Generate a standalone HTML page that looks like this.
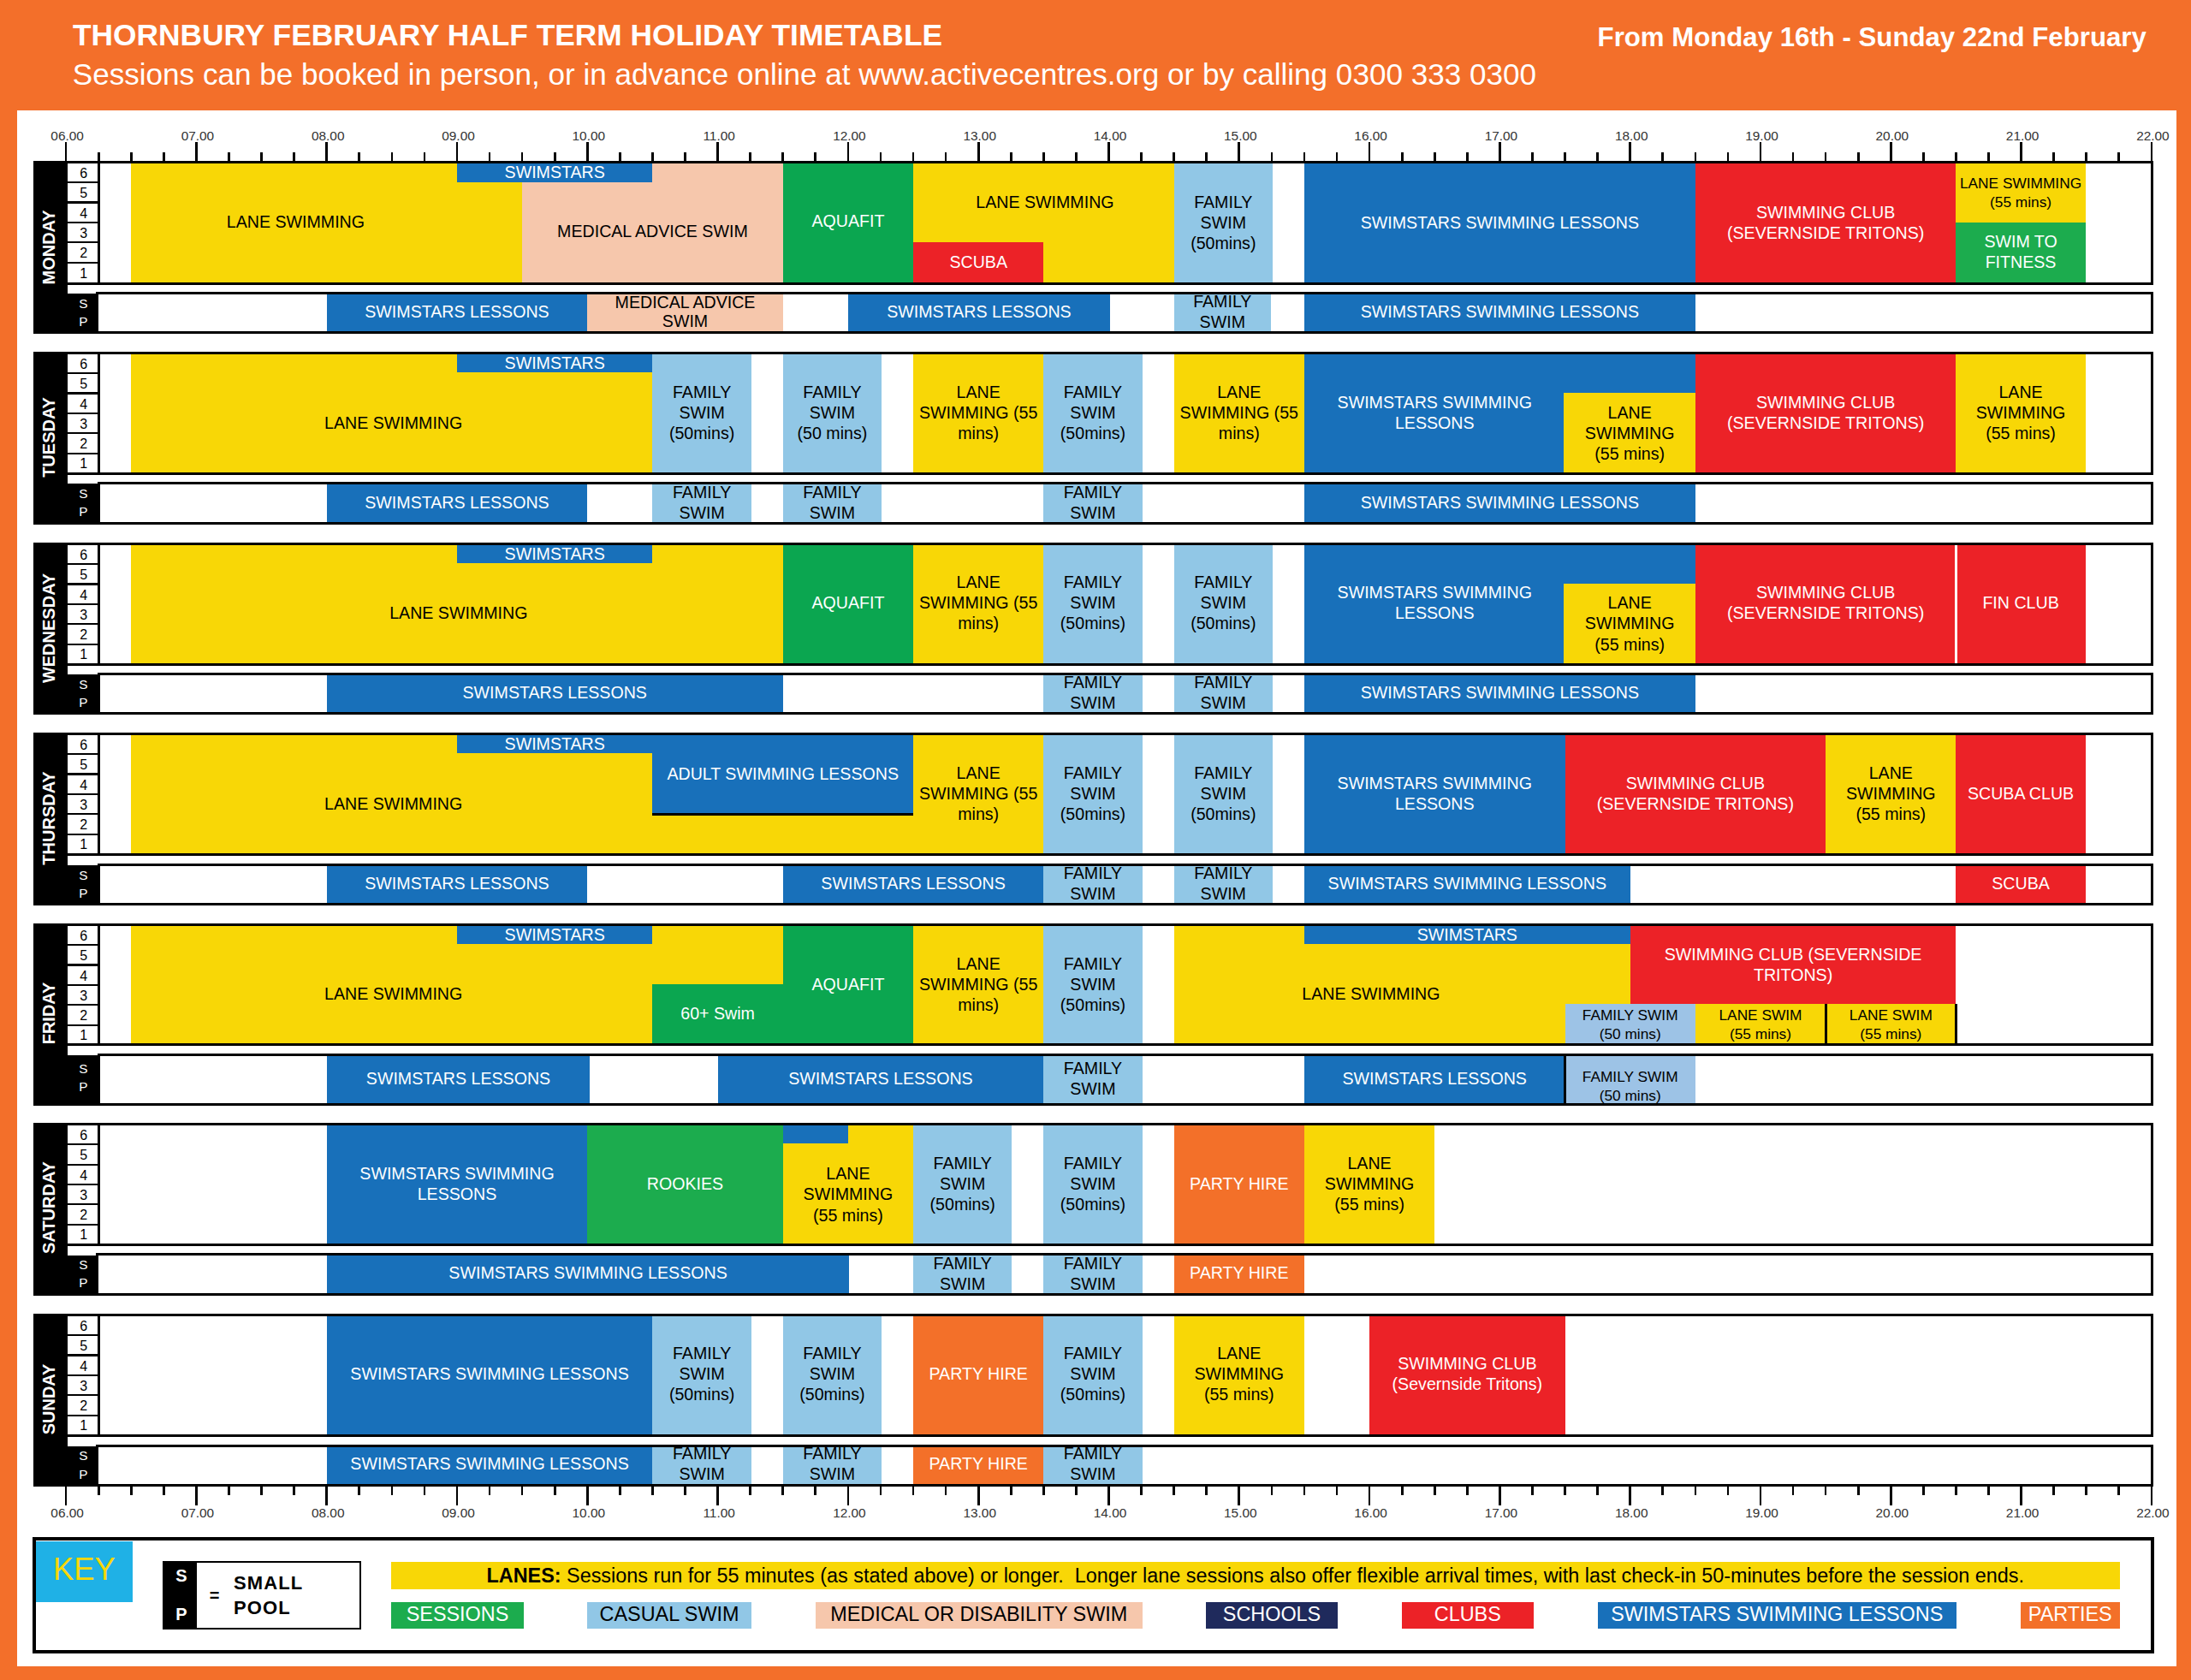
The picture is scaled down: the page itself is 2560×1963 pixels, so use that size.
<!DOCTYPE html>
<html><head><meta charset="utf-8"><title>Thornbury Timetable</title>
<style>
html,body{margin:0;padding:0}
body{width:2560px;height:1963px;background:#f36f2a;position:relative;overflow:hidden;font-family:"Liberation Sans",sans-serif}
#white{position:absolute;left:20px;top:128.5px;width:2523px;height:1818.3px;background:#fff}
.b{position:absolute}
.t{position:absolute;display:flex;align-items:center;justify-content:center;text-align:center;font-size:19.62px;line-height:24.15px;white-space:nowrap}
.t.tight{line-height:22.8px}
.t.sm{font-size:17.3px;line-height:22.2px}
.fr{position:absolute;box-sizing:border-box;border:3px solid #000}
.h1{position:absolute;left:85px;top:20.8px;font-size:35.34px;font-weight:bold;color:#fff;white-space:nowrap;line-height:40px}
.h2{position:absolute;left:84.8px;top:66.7px;font-size:35.1px;color:#fff;white-space:nowrap;line-height:40px}
.h3{position:absolute;left:1866.6px;top:25.6px;font-size:31.2px;font-weight:bold;color:#fff;white-space:nowrap;line-height:36px}
.ax{position:absolute;width:60px;text-align:center;font-size:15.4px;line-height:18px;color:#333;margin-top:1.4px}
.day{position:absolute;width:39.4px;display:flex;align-items:center;justify-content:center}
.day span{display:block;transform:rotate(-90deg);color:#fff;font-weight:bold;font-size:20px;white-space:nowrap;line-height:20px;position:relative;left:-2.2px}
.sp{position:absolute;display:flex;flex-direction:column;align-items:center;justify-content:center;color:#fff;font-weight:normal;font-size:15.4px;line-height:21.1px}
.sp span{display:block;position:relative;left:0.5px}
.ln{position:absolute;left:78.5px;width:36.5px;text-align:center;font-size:16px;color:#000;background:#fff;padding-left:2px;box-sizing:border-box}
.key{position:absolute;display:flex;align-items:center;justify-content:center;color:#f8d706;font-size:36.3px;line-height:40px}
.spk{position:absolute;color:#fff;font-weight:bold;font-size:20px;text-align:center;line-height:24px}
.eq{position:absolute;font-weight:bold;font-size:20px;line-height:24px}
.smp{position:absolute;font-weight:bold;font-size:22px;line-height:29.3px;letter-spacing:1.1px}
.lanes{position:absolute;display:flex;align-items:center;justify-content:center;font-size:23.38px;white-space:nowrap}
.ki{position:absolute;display:flex;align-items:center;justify-content:center;font-size:23.4px;white-space:nowrap}
</style></head>
<body>
<div id="white"></div>
<div class="h1">THORNBURY FEBRUARY HALF TERM HOLIDAY TIMETABLE</div>
<div class="h2">Sessions can be booked in person, or in advance online at www.activecentres.org or by calling 0300 333 0300</div>
<div class="h3">From Monday 16th - Sunday 22nd February</div>
<div class="b " style="left:75.75px;top:165.70px;width:2.70px;height:23.30px;background:#000;"></div>
<div class="ax" style="left:48.60px;top:148.50px">06.00</div>
<div class="b " style="left:113.83px;top:177.70px;width:2.70px;height:11.30px;background:#000;"></div>
<div class="b " style="left:151.90px;top:177.70px;width:2.70px;height:11.30px;background:#000;"></div>
<div class="b " style="left:189.97px;top:177.70px;width:2.70px;height:11.30px;background:#000;"></div>
<div class="b " style="left:228.05px;top:165.70px;width:2.70px;height:23.30px;background:#000;"></div>
<div class="ax" style="left:200.90px;top:148.50px">07.00</div>
<div class="b " style="left:266.12px;top:177.70px;width:2.70px;height:11.30px;background:#000;"></div>
<div class="b " style="left:304.20px;top:177.70px;width:2.70px;height:11.30px;background:#000;"></div>
<div class="b " style="left:342.27px;top:177.70px;width:2.70px;height:11.30px;background:#000;"></div>
<div class="b " style="left:380.35px;top:165.70px;width:2.70px;height:23.30px;background:#000;"></div>
<div class="ax" style="left:353.20px;top:148.50px">08.00</div>
<div class="b " style="left:418.42px;top:177.70px;width:2.70px;height:11.30px;background:#000;"></div>
<div class="b " style="left:456.50px;top:177.70px;width:2.70px;height:11.30px;background:#000;"></div>
<div class="b " style="left:494.58px;top:177.70px;width:2.70px;height:11.30px;background:#000;"></div>
<div class="b " style="left:532.65px;top:165.70px;width:2.70px;height:23.30px;background:#000;"></div>
<div class="ax" style="left:505.50px;top:148.50px">09.00</div>
<div class="b " style="left:570.73px;top:177.70px;width:2.70px;height:11.30px;background:#000;"></div>
<div class="b " style="left:608.80px;top:177.70px;width:2.70px;height:11.30px;background:#000;"></div>
<div class="b " style="left:646.88px;top:177.70px;width:2.70px;height:11.30px;background:#000;"></div>
<div class="b " style="left:684.95px;top:165.70px;width:2.70px;height:23.30px;background:#000;"></div>
<div class="ax" style="left:657.80px;top:148.50px">10.00</div>
<div class="b " style="left:723.03px;top:177.70px;width:2.70px;height:11.30px;background:#000;"></div>
<div class="b " style="left:761.10px;top:177.70px;width:2.70px;height:11.30px;background:#000;"></div>
<div class="b " style="left:799.18px;top:177.70px;width:2.70px;height:11.30px;background:#000;"></div>
<div class="b " style="left:837.25px;top:165.70px;width:2.70px;height:23.30px;background:#000;"></div>
<div class="ax" style="left:810.10px;top:148.50px">11.00</div>
<div class="b " style="left:875.33px;top:177.70px;width:2.70px;height:11.30px;background:#000;"></div>
<div class="b " style="left:913.40px;top:177.70px;width:2.70px;height:11.30px;background:#000;"></div>
<div class="b " style="left:951.48px;top:177.70px;width:2.70px;height:11.30px;background:#000;"></div>
<div class="b " style="left:989.55px;top:165.70px;width:2.70px;height:23.30px;background:#000;"></div>
<div class="ax" style="left:962.40px;top:148.50px">12.00</div>
<div class="b " style="left:1027.63px;top:177.70px;width:2.70px;height:11.30px;background:#000;"></div>
<div class="b " style="left:1065.70px;top:177.70px;width:2.70px;height:11.30px;background:#000;"></div>
<div class="b " style="left:1103.78px;top:177.70px;width:2.70px;height:11.30px;background:#000;"></div>
<div class="b " style="left:1141.85px;top:165.70px;width:2.70px;height:23.30px;background:#000;"></div>
<div class="ax" style="left:1114.70px;top:148.50px">13.00</div>
<div class="b " style="left:1179.93px;top:177.70px;width:2.70px;height:11.30px;background:#000;"></div>
<div class="b " style="left:1218.00px;top:177.70px;width:2.70px;height:11.30px;background:#000;"></div>
<div class="b " style="left:1256.08px;top:177.70px;width:2.70px;height:11.30px;background:#000;"></div>
<div class="b " style="left:1294.15px;top:165.70px;width:2.70px;height:23.30px;background:#000;"></div>
<div class="ax" style="left:1267.00px;top:148.50px">14.00</div>
<div class="b " style="left:1332.23px;top:177.70px;width:2.70px;height:11.30px;background:#000;"></div>
<div class="b " style="left:1370.30px;top:177.70px;width:2.70px;height:11.30px;background:#000;"></div>
<div class="b " style="left:1408.38px;top:177.70px;width:2.70px;height:11.30px;background:#000;"></div>
<div class="b " style="left:1446.45px;top:165.70px;width:2.70px;height:23.30px;background:#000;"></div>
<div class="ax" style="left:1419.30px;top:148.50px">15.00</div>
<div class="b " style="left:1484.53px;top:177.70px;width:2.70px;height:11.30px;background:#000;"></div>
<div class="b " style="left:1522.60px;top:177.70px;width:2.70px;height:11.30px;background:#000;"></div>
<div class="b " style="left:1560.68px;top:177.70px;width:2.70px;height:11.30px;background:#000;"></div>
<div class="b " style="left:1598.75px;top:165.70px;width:2.70px;height:23.30px;background:#000;"></div>
<div class="ax" style="left:1571.60px;top:148.50px">16.00</div>
<div class="b " style="left:1636.83px;top:177.70px;width:2.70px;height:11.30px;background:#000;"></div>
<div class="b " style="left:1674.90px;top:177.70px;width:2.70px;height:11.30px;background:#000;"></div>
<div class="b " style="left:1712.98px;top:177.70px;width:2.70px;height:11.30px;background:#000;"></div>
<div class="b " style="left:1751.05px;top:165.70px;width:2.70px;height:23.30px;background:#000;"></div>
<div class="ax" style="left:1723.90px;top:148.50px">17.00</div>
<div class="b " style="left:1789.13px;top:177.70px;width:2.70px;height:11.30px;background:#000;"></div>
<div class="b " style="left:1827.20px;top:177.70px;width:2.70px;height:11.30px;background:#000;"></div>
<div class="b " style="left:1865.28px;top:177.70px;width:2.70px;height:11.30px;background:#000;"></div>
<div class="b " style="left:1903.35px;top:165.70px;width:2.70px;height:23.30px;background:#000;"></div>
<div class="ax" style="left:1876.20px;top:148.50px">18.00</div>
<div class="b " style="left:1941.43px;top:177.70px;width:2.70px;height:11.30px;background:#000;"></div>
<div class="b " style="left:1979.50px;top:177.70px;width:2.70px;height:11.30px;background:#000;"></div>
<div class="b " style="left:2017.58px;top:177.70px;width:2.70px;height:11.30px;background:#000;"></div>
<div class="b " style="left:2055.65px;top:165.70px;width:2.70px;height:23.30px;background:#000;"></div>
<div class="ax" style="left:2028.50px;top:148.50px">19.00</div>
<div class="b " style="left:2093.73px;top:177.70px;width:2.70px;height:11.30px;background:#000;"></div>
<div class="b " style="left:2131.80px;top:177.70px;width:2.70px;height:11.30px;background:#000;"></div>
<div class="b " style="left:2169.88px;top:177.70px;width:2.70px;height:11.30px;background:#000;"></div>
<div class="b " style="left:2207.95px;top:165.70px;width:2.70px;height:23.30px;background:#000;"></div>
<div class="ax" style="left:2180.80px;top:148.50px">20.00</div>
<div class="b " style="left:2246.03px;top:177.70px;width:2.70px;height:11.30px;background:#000;"></div>
<div class="b " style="left:2284.10px;top:177.70px;width:2.70px;height:11.30px;background:#000;"></div>
<div class="b " style="left:2322.18px;top:177.70px;width:2.70px;height:11.30px;background:#000;"></div>
<div class="b " style="left:2360.25px;top:165.70px;width:2.70px;height:23.30px;background:#000;"></div>
<div class="ax" style="left:2333.10px;top:148.50px">21.00</div>
<div class="b " style="left:2398.33px;top:177.70px;width:2.70px;height:11.30px;background:#000;"></div>
<div class="b " style="left:2436.40px;top:177.70px;width:2.70px;height:11.30px;background:#000;"></div>
<div class="b " style="left:2474.48px;top:177.70px;width:2.70px;height:11.30px;background:#000;"></div>
<div class="b " style="left:2512.55px;top:165.70px;width:2.70px;height:23.30px;background:#000;"></div>
<div class="ax" style="left:2485.40px;top:148.50px">22.00</div>
<div class="b " style="left:39.40px;top:188.00px;width:39.30px;height:202.40px;background:#000;"></div>
<div class="b " style="left:78.50px;top:342.80px;width:36.50px;height:47.60px;background:#000;"></div>
<div class="day" style="left:39.40px;top:187.50px;height:202.40px"><span>MONDAY</span></div>
<div class="sp" style="left:78.7px;top:343.40px;width:36.5px;height:43.70px"><span>S</span><span>P</span></div>
<div class="ln" style="top:191.00px;height:22.00px;line-height:24.40px">6</div>
<div class="ln" style="top:213.00px;height:23.50px;line-height:25.90px">5</div>
<div class="ln" style="top:236.50px;height:23.30px;line-height:25.70px">4</div>
<div class="ln" style="top:259.80px;height:23.20px;line-height:25.60px">3</div>
<div class="ln" style="top:283.00px;height:23.80px;line-height:26.20px">2</div>
<div class="ln" style="top:306.80px;height:22.80px;line-height:25.20px">1</div>
<div class="b " style="left:78.50px;top:211.80px;width:36.50px;height:2.40px;background:#000;"></div>
<div class="b " style="left:78.50px;top:235.30px;width:36.50px;height:2.40px;background:#000;"></div>
<div class="b " style="left:78.50px;top:258.60px;width:36.50px;height:2.40px;background:#000;"></div>
<div class="b " style="left:78.50px;top:281.80px;width:36.50px;height:2.40px;background:#000;"></div>
<div class="b " style="left:78.50px;top:305.60px;width:36.50px;height:2.40px;background:#000;"></div>
<div class="b " style="left:153.25px;top:191.00px;width:456.90px;height:139.80px;background:#f8d706;"></div>
<div class="t " style="left:155.05px;top:189.30px;width:380.75px;height:138.60px;color:#000"><span>LANE SWIMMING</span></div>
<div class="b " style="left:610.15px;top:191.00px;width:304.60px;height:139.80px;background:#f6c7ac;"></div>
<div class="t " style="left:610.15px;top:212.30px;width:304.60px;height:116.50px;color:#000"><span>MEDICAL ADVICE SWIM</span></div>
<div class="b " style="left:534.00px;top:191.00px;width:228.45px;height:22.10px;background:#1870ba;"></div>
<div class="t " style="left:534.00px;top:190.50px;width:228.45px;height:22.10px;color:#fff"><span>SWIMSTARS</span></div>
<div class="b " style="left:914.75px;top:191.00px;width:152.30px;height:139.80px;background:#0ba650;"></div>
<div class="t " style="left:914.75px;top:188.60px;width:152.30px;height:138.60px;color:#fff"><span>AQUAFIT</span></div>
<div class="b " style="left:1067.05px;top:191.00px;width:304.60px;height:139.80px;background:#f8d706;"></div>
<div class="t " style="left:1068.65px;top:190.50px;width:304.60px;height:92.00px;color:#000"><span>LANE SWIMMING</span></div>
<div class="b " style="left:1067.05px;top:283.00px;width:152.30px;height:47.80px;background:#ec2227;"></div>
<div class="t " style="left:1067.05px;top:282.50px;width:152.30px;height:46.60px;color:#fff"><span>SCUBA</span></div>
<div class="b " style="left:1371.65px;top:191.00px;width:115.29px;height:139.80px;background:#91c7e6;"></div>
<div class="t " style="left:1371.65px;top:190.50px;width:115.29px;height:138.60px;color:#000"><span>FAMILY<br>SWIM<br>(50mins)</span></div>
<div class="b " style="left:1523.95px;top:191.00px;width:456.90px;height:139.80px;background:#1870ba;"></div>
<div class="t " style="left:1523.95px;top:190.50px;width:456.90px;height:138.60px;color:#fff"><span>SWIMSTARS SWIMMING LESSONS</span></div>
<div class="b " style="left:1980.85px;top:191.00px;width:304.60px;height:139.80px;background:#ec2227;"></div>
<div class="t " style="left:1980.85px;top:190.50px;width:304.60px;height:138.60px;color:#fff"><span>SWIMMING CLUB<br>(SEVERNSIDE TRITONS)</span></div>
<div class="b " style="left:2285.45px;top:191.00px;width:151.23px;height:68.60px;background:#f8d706;"></div>
<div class="t sm" style="left:2285.45px;top:190.50px;width:151.23px;height:68.60px;color:#000"><span>LANE SWIMMING<br>(55 mins)</span></div>
<div class="b " style="left:2285.45px;top:259.60px;width:151.23px;height:71.20px;background:#1cac4e;"></div>
<div class="t " style="left:2285.45px;top:259.10px;width:151.23px;height:70.00px;color:#fff"><span>SWIM TO<br>FITNESS</span></div>
<div class="b " style="left:381.70px;top:343.10px;width:304.60px;height:45.30px;background:#1870ba;"></div>
<div class="t " style="left:381.70px;top:342.20px;width:304.60px;height:43.70px;color:#fff"><span>SWIMSTARS LESSONS</span></div>
<div class="b " style="left:686.30px;top:343.10px;width:228.45px;height:45.30px;background:#f6c7ac;"></div>
<div class="t tight" style="left:686.30px;top:342.50px;width:228.45px;height:43.70px;color:#000"><span>MEDICAL ADVICE<br>SWIM</span></div>
<div class="b " style="left:990.90px;top:343.10px;width:306.12px;height:45.30px;background:#1870ba;"></div>
<div class="t " style="left:990.90px;top:342.20px;width:306.12px;height:43.70px;color:#fff"><span>SWIMSTARS LESSONS</span></div>
<div class="b " style="left:1371.65px;top:343.10px;width:113.31px;height:45.30px;background:#91c7e6;"></div>
<div class="t " style="left:1371.65px;top:342.20px;width:113.31px;height:43.70px;color:#000"><span>FAMILY<br>SWIM</span></div>
<div class="b " style="left:1523.95px;top:343.10px;width:456.90px;height:45.30px;background:#1870ba;"></div>
<div class="t " style="left:1523.95px;top:342.20px;width:456.90px;height:43.70px;color:#fff"><span>SWIMSTARS SWIMMING LESSONS</span></div>
<div class="fr" style="left:114.1px;top:188.00px;width:2401.90px;height:144.60px"></div>
<div class="b " style="left:39.40px;top:188.00px;width:80.00px;height:3.00px;background:#000;"></div>
<div class="b " style="left:78.50px;top:329.60px;width:40.00px;height:3.00px;background:#000;"></div>
<div class="fr" style="left:112.10px;top:340.70px;width:2403.90px;height:49.70px"></div>
<div class="b " style="left:39.40px;top:411.00px;width:39.30px;height:201.60px;background:#000;"></div>
<div class="b " style="left:78.50px;top:565.10px;width:38.50px;height:47.50px;background:#000;"></div>
<div class="day" style="left:39.40px;top:410.50px;height:201.60px"><span>TUESDAY</span></div>
<div class="sp" style="left:78.7px;top:565.70px;width:36.5px;height:43.60px"><span>S</span><span>P</span></div>
<div class="ln" style="top:414.00px;height:22.00px;line-height:24.40px">6</div>
<div class="ln" style="top:436.00px;height:23.50px;line-height:25.90px">5</div>
<div class="ln" style="top:459.50px;height:23.30px;line-height:25.70px">4</div>
<div class="ln" style="top:482.80px;height:23.20px;line-height:25.60px">3</div>
<div class="ln" style="top:506.00px;height:23.80px;line-height:26.20px">2</div>
<div class="ln" style="top:529.80px;height:21.80px;line-height:24.20px">1</div>
<div class="b " style="left:78.50px;top:434.80px;width:36.50px;height:2.40px;background:#000;"></div>
<div class="b " style="left:78.50px;top:458.30px;width:36.50px;height:2.40px;background:#000;"></div>
<div class="b " style="left:78.50px;top:481.60px;width:36.50px;height:2.40px;background:#000;"></div>
<div class="b " style="left:78.50px;top:504.80px;width:36.50px;height:2.40px;background:#000;"></div>
<div class="b " style="left:78.50px;top:528.60px;width:36.50px;height:2.40px;background:#000;"></div>
<div class="b " style="left:153.25px;top:414.00px;width:609.20px;height:138.80px;background:#f8d706;"></div>
<div class="t " style="left:155.05px;top:436.20px;width:609.20px;height:116.20px;color:#000"><span>LANE SWIMMING</span></div>
<div class="b " style="left:534.00px;top:414.00px;width:228.45px;height:21.40px;background:#1870ba;"></div>
<div class="t " style="left:534.00px;top:413.50px;width:228.45px;height:21.40px;color:#fff"><span>SWIMSTARS</span></div>
<div class="b " style="left:762.45px;top:414.00px;width:115.29px;height:138.80px;background:#91c7e6;"></div>
<div class="t " style="left:762.45px;top:413.30px;width:115.29px;height:137.60px;color:#000"><span>FAMILY<br>SWIM<br>(50mins)</span></div>
<div class="b " style="left:914.75px;top:414.00px;width:115.29px;height:138.80px;background:#91c7e6;"></div>
<div class="t " style="left:914.75px;top:413.30px;width:115.29px;height:137.60px;color:#000"><span>FAMILY<br>SWIM<br>(50 mins)</span></div>
<div class="b " style="left:1067.05px;top:414.00px;width:152.30px;height:138.80px;background:#f8d706;"></div>
<div class="t " style="left:1067.05px;top:413.30px;width:152.30px;height:137.60px;color:#000"><span>LANE<br>SWIMMING (55<br>mins)</span></div>
<div class="b " style="left:1219.35px;top:414.00px;width:115.29px;height:138.80px;background:#91c7e6;"></div>
<div class="t " style="left:1219.35px;top:413.30px;width:115.29px;height:137.60px;color:#000"><span>FAMILY<br>SWIM<br>(50mins)</span></div>
<div class="b " style="left:1371.65px;top:414.00px;width:152.30px;height:138.80px;background:#f8d706;"></div>
<div class="t " style="left:1371.65px;top:413.30px;width:152.30px;height:137.60px;color:#000"><span>LANE<br>SWIMMING (55<br>mins)</span></div>
<div class="b " style="left:1523.95px;top:414.00px;width:456.90px;height:138.80px;background:#1870ba;"></div>
<div class="t " style="left:1523.95px;top:413.30px;width:304.60px;height:137.60px;color:#fff"><span>SWIMSTARS SWIMMING<br>LESSONS</span></div>
<div class="b " style="left:1827.48px;top:459.00px;width:153.37px;height:93.80px;background:#f8d706;"></div>
<div class="t " style="left:1827.48px;top:460.00px;width:153.37px;height:92.60px;color:#000"><span>LANE<br>SWIMMING<br>(55 mins)</span></div>
<div class="b " style="left:1980.85px;top:414.00px;width:304.60px;height:138.80px;background:#ec2227;"></div>
<div class="t " style="left:1980.85px;top:413.30px;width:304.60px;height:137.60px;color:#fff"><span>SWIMMING CLUB<br>(SEVERNSIDE TRITONS)</span></div>
<div class="b " style="left:2285.45px;top:414.00px;width:151.23px;height:138.80px;background:#f8d706;"></div>
<div class="t " style="left:2285.45px;top:413.30px;width:151.23px;height:137.60px;color:#000"><span>LANE<br>SWIMMING<br>(55 mins)</span></div>
<div class="b " style="left:381.70px;top:565.40px;width:304.60px;height:45.20px;background:#1870ba;"></div>
<div class="t " style="left:381.70px;top:565.00px;width:304.60px;height:43.60px;color:#fff"><span>SWIMSTARS LESSONS</span></div>
<div class="b " style="left:762.45px;top:565.40px;width:115.29px;height:45.20px;background:#91c7e6;"></div>
<div class="t " style="left:762.45px;top:565.00px;width:115.29px;height:43.60px;color:#000"><span>FAMILY<br>SWIM</span></div>
<div class="b " style="left:914.75px;top:565.40px;width:115.29px;height:45.20px;background:#91c7e6;"></div>
<div class="t " style="left:914.75px;top:565.00px;width:115.29px;height:43.60px;color:#000"><span>FAMILY<br>SWIM</span></div>
<div class="b " style="left:1219.35px;top:565.40px;width:115.29px;height:45.20px;background:#91c7e6;"></div>
<div class="t " style="left:1219.35px;top:565.00px;width:115.29px;height:43.60px;color:#000"><span>FAMILY<br>SWIM</span></div>
<div class="b " style="left:1523.95px;top:565.40px;width:456.90px;height:45.20px;background:#1870ba;"></div>
<div class="t " style="left:1523.95px;top:565.00px;width:456.90px;height:43.60px;color:#fff"><span>SWIMSTARS SWIMMING LESSONS</span></div>
<div class="fr" style="left:114.1px;top:411.00px;width:2401.90px;height:143.60px"></div>
<div class="b " style="left:39.40px;top:411.00px;width:80.00px;height:3.00px;background:#000;"></div>
<div class="b " style="left:78.50px;top:551.60px;width:40.00px;height:3.00px;background:#000;"></div>
<div class="fr" style="left:114.10px;top:563.00px;width:2401.90px;height:49.60px"></div>
<div class="b " style="left:39.40px;top:634.00px;width:39.30px;height:201.10px;background:#000;"></div>
<div class="b " style="left:78.50px;top:788.10px;width:38.50px;height:47.00px;background:#000;"></div>
<div class="day" style="left:39.40px;top:633.00px;height:201.10px"><span>WEDNESDAY</span></div>
<div class="sp" style="left:78.7px;top:788.40px;width:36.5px;height:43.10px"><span>S</span><span>P</span></div>
<div class="ln" style="top:637.00px;height:22.00px;line-height:24.40px">6</div>
<div class="ln" style="top:659.00px;height:23.50px;line-height:25.90px">5</div>
<div class="ln" style="top:682.50px;height:23.30px;line-height:25.70px">4</div>
<div class="ln" style="top:705.80px;height:23.20px;line-height:25.60px">3</div>
<div class="ln" style="top:729.00px;height:23.80px;line-height:26.20px">2</div>
<div class="ln" style="top:752.80px;height:21.80px;line-height:24.20px">1</div>
<div class="b " style="left:78.50px;top:657.80px;width:36.50px;height:2.40px;background:#000;"></div>
<div class="b " style="left:78.50px;top:681.30px;width:36.50px;height:2.40px;background:#000;"></div>
<div class="b " style="left:78.50px;top:704.60px;width:36.50px;height:2.40px;background:#000;"></div>
<div class="b " style="left:78.50px;top:727.80px;width:36.50px;height:2.40px;background:#000;"></div>
<div class="b " style="left:78.50px;top:751.60px;width:36.50px;height:2.40px;background:#000;"></div>
<div class="b " style="left:153.25px;top:637.00px;width:761.50px;height:138.80px;background:#f8d706;"></div>
<div class="t " style="left:155.05px;top:658.40px;width:761.50px;height:116.20px;color:#000"><span>LANE SWIMMING</span></div>
<div class="b " style="left:534.00px;top:637.00px;width:228.45px;height:21.40px;background:#1870ba;"></div>
<div class="t " style="left:534.00px;top:636.50px;width:228.45px;height:21.40px;color:#fff"><span>SWIMSTARS</span></div>
<div class="b " style="left:914.75px;top:637.00px;width:152.30px;height:138.80px;background:#0ba650;"></div>
<div class="t " style="left:914.75px;top:635.50px;width:152.30px;height:137.60px;color:#fff"><span>AQUAFIT</span></div>
<div class="b " style="left:1067.05px;top:637.00px;width:152.30px;height:138.80px;background:#f8d706;"></div>
<div class="t " style="left:1067.05px;top:635.50px;width:152.30px;height:137.60px;color:#000"><span>LANE<br>SWIMMING (55<br>mins)</span></div>
<div class="b " style="left:1219.35px;top:637.00px;width:115.29px;height:138.80px;background:#91c7e6;"></div>
<div class="t " style="left:1219.35px;top:635.50px;width:115.29px;height:137.60px;color:#000"><span>FAMILY<br>SWIM<br>(50mins)</span></div>
<div class="b " style="left:1371.65px;top:637.00px;width:115.29px;height:138.80px;background:#91c7e6;"></div>
<div class="t " style="left:1371.65px;top:635.50px;width:115.29px;height:137.60px;color:#000"><span>FAMILY<br>SWIM<br>(50mins)</span></div>
<div class="b " style="left:1523.95px;top:637.00px;width:456.90px;height:138.80px;background:#1870ba;"></div>
<div class="t " style="left:1523.95px;top:635.50px;width:304.60px;height:137.60px;color:#fff"><span>SWIMSTARS SWIMMING<br>LESSONS</span></div>
<div class="b " style="left:1827.48px;top:682.00px;width:153.37px;height:93.80px;background:#f8d706;"></div>
<div class="t " style="left:1827.48px;top:682.20px;width:153.37px;height:92.60px;color:#000"><span>LANE<br>SWIMMING<br>(55 mins)</span></div>
<div class="b " style="left:1980.85px;top:637.00px;width:304.60px;height:138.80px;background:#ec2227;"></div>
<div class="t " style="left:1980.85px;top:635.50px;width:304.60px;height:137.60px;color:#fff"><span>SWIMMING CLUB<br>(SEVERNSIDE TRITONS)</span></div>
<div class="b " style="left:2285.45px;top:637.00px;width:151.23px;height:138.80px;background:#ec2227;"></div>
<div class="t " style="left:2285.45px;top:635.50px;width:151.23px;height:137.60px;color:#fff"><span>FIN CLUB</span></div>
<div class="b " style="left:2284.25px;top:637.00px;width:2.60px;height:137.60px;background:#fff;"></div>
<div class="b " style="left:381.70px;top:788.40px;width:533.05px;height:44.70px;background:#1870ba;"></div>
<div class="t " style="left:381.70px;top:787.50px;width:533.05px;height:43.10px;color:#fff"><span>SWIMSTARS LESSONS</span></div>
<div class="b " style="left:1219.35px;top:788.40px;width:115.29px;height:44.70px;background:#91c7e6;"></div>
<div class="t " style="left:1219.35px;top:787.50px;width:115.29px;height:43.10px;color:#000"><span>FAMILY<br>SWIM</span></div>
<div class="b " style="left:1371.65px;top:788.40px;width:115.29px;height:44.70px;background:#91c7e6;"></div>
<div class="t " style="left:1371.65px;top:787.50px;width:115.29px;height:43.10px;color:#000"><span>FAMILY<br>SWIM</span></div>
<div class="b " style="left:1523.95px;top:788.40px;width:456.90px;height:44.70px;background:#1870ba;"></div>
<div class="t " style="left:1523.95px;top:787.50px;width:456.90px;height:43.10px;color:#fff"><span>SWIMSTARS SWIMMING LESSONS</span></div>
<div class="fr" style="left:114.1px;top:634.00px;width:2401.90px;height:143.60px"></div>
<div class="b " style="left:39.40px;top:634.00px;width:80.00px;height:3.00px;background:#000;"></div>
<div class="b " style="left:78.50px;top:774.60px;width:40.00px;height:3.00px;background:#000;"></div>
<div class="fr" style="left:114.10px;top:786.00px;width:2401.90px;height:49.10px"></div>
<div class="b " style="left:39.40px;top:856.10px;width:39.30px;height:202.30px;background:#000;"></div>
<div class="b " style="left:78.50px;top:1010.90px;width:38.50px;height:47.50px;background:#000;"></div>
<div class="day" style="left:39.40px;top:854.60px;height:202.30px"><span>THURSDAY</span></div>
<div class="sp" style="left:78.7px;top:1010.90px;width:36.5px;height:43.60px"><span>S</span><span>P</span></div>
<div class="ln" style="top:859.10px;height:22.00px;line-height:24.40px">6</div>
<div class="ln" style="top:881.10px;height:23.50px;line-height:25.90px">5</div>
<div class="ln" style="top:904.60px;height:23.30px;line-height:25.70px">4</div>
<div class="ln" style="top:927.90px;height:23.20px;line-height:25.60px">3</div>
<div class="ln" style="top:951.10px;height:23.80px;line-height:26.20px">2</div>
<div class="ln" style="top:974.90px;height:22.10px;line-height:24.50px">1</div>
<div class="b " style="left:78.50px;top:879.90px;width:36.50px;height:2.40px;background:#000;"></div>
<div class="b " style="left:78.50px;top:903.40px;width:36.50px;height:2.40px;background:#000;"></div>
<div class="b " style="left:78.50px;top:926.70px;width:36.50px;height:2.40px;background:#000;"></div>
<div class="b " style="left:78.50px;top:949.90px;width:36.50px;height:2.40px;background:#000;"></div>
<div class="b " style="left:78.50px;top:973.70px;width:36.50px;height:2.40px;background:#000;"></div>
<div class="b " style="left:153.25px;top:859.10px;width:913.80px;height:139.10px;background:#f8d706;"></div>
<div class="t " style="left:155.05px;top:881.10px;width:609.20px;height:116.50px;color:#000"><span>LANE SWIMMING</span></div>
<div class="b " style="left:534.00px;top:859.10px;width:533.05px;height:21.40px;background:#1870ba;"></div>
<div class="t " style="left:534.00px;top:858.60px;width:228.45px;height:21.40px;color:#fff"><span>SWIMSTARS</span></div>
<div class="b " style="left:762.45px;top:859.10px;width:304.60px;height:91.30px;background:#1870ba;"></div>
<div class="t " style="left:762.45px;top:858.20px;width:304.60px;height:91.30px;color:#fff"><span>ADULT SWIMMING LESSONS</span></div>
<div class="b " style="left:762.45px;top:950.40px;width:305.60px;height:2.80px;background:#000;"></div>
<div class="b " style="left:1067.05px;top:859.10px;width:152.30px;height:139.10px;background:#f8d706;"></div>
<div class="t " style="left:1067.05px;top:858.20px;width:152.30px;height:137.90px;color:#000"><span>LANE<br>SWIMMING (55<br>mins)</span></div>
<div class="b " style="left:1219.35px;top:859.10px;width:115.29px;height:139.10px;background:#91c7e6;"></div>
<div class="t " style="left:1219.35px;top:858.20px;width:115.29px;height:137.90px;color:#000"><span>FAMILY<br>SWIM<br>(50mins)</span></div>
<div class="b " style="left:1371.65px;top:859.10px;width:115.29px;height:139.10px;background:#91c7e6;"></div>
<div class="t " style="left:1371.65px;top:858.20px;width:115.29px;height:137.90px;color:#000"><span>FAMILY<br>SWIM<br>(50mins)</span></div>
<div class="b " style="left:1523.95px;top:859.10px;width:304.60px;height:139.10px;background:#1870ba;"></div>
<div class="t " style="left:1523.95px;top:858.20px;width:304.60px;height:137.90px;color:#fff"><span>SWIMSTARS SWIMMING<br>LESSONS</span></div>
<div class="b " style="left:1828.55px;top:859.10px;width:304.60px;height:139.10px;background:#ec2227;"></div>
<div class="t " style="left:1828.55px;top:858.20px;width:304.60px;height:137.90px;color:#fff"><span>SWIMMING CLUB<br>(SEVERNSIDE TRITONS)</span></div>
<div class="b " style="left:2133.15px;top:859.10px;width:152.30px;height:139.10px;background:#f8d706;"></div>
<div class="t " style="left:2133.15px;top:858.20px;width:152.30px;height:137.90px;color:#000"><span>LANE<br>SWIMMING<br>(55 mins)</span></div>
<div class="b " style="left:2285.45px;top:859.10px;width:151.23px;height:139.10px;background:#ec2227;"></div>
<div class="t " style="left:2285.45px;top:858.20px;width:151.23px;height:137.90px;color:#fff"><span>SCUBA CLUB</span></div>
<div class="b " style="left:381.70px;top:1011.20px;width:304.60px;height:45.20px;background:#1870ba;"></div>
<div class="t " style="left:381.70px;top:1010.30px;width:304.60px;height:43.60px;color:#fff"><span>SWIMSTARS LESSONS</span></div>
<div class="b " style="left:914.75px;top:1011.20px;width:304.60px;height:45.20px;background:#1870ba;"></div>
<div class="t " style="left:914.75px;top:1010.30px;width:304.60px;height:43.60px;color:#fff"><span>SWIMSTARS LESSONS</span></div>
<div class="b " style="left:1219.35px;top:1011.20px;width:115.29px;height:45.20px;background:#91c7e6;"></div>
<div class="t " style="left:1219.35px;top:1010.30px;width:115.29px;height:43.60px;color:#000"><span>FAMILY<br>SWIM</span></div>
<div class="b " style="left:1371.65px;top:1011.20px;width:115.29px;height:45.20px;background:#91c7e6;"></div>
<div class="t " style="left:1371.65px;top:1010.30px;width:115.29px;height:43.60px;color:#000"><span>FAMILY<br>SWIM</span></div>
<div class="b " style="left:1523.95px;top:1011.20px;width:380.75px;height:45.20px;background:#1870ba;"></div>
<div class="t " style="left:1523.95px;top:1010.30px;width:380.75px;height:43.60px;color:#fff"><span>SWIMSTARS SWIMMING LESSONS</span></div>
<div class="b " style="left:2285.45px;top:1011.20px;width:151.23px;height:45.20px;background:#ec2227;"></div>
<div class="t " style="left:2285.45px;top:1010.30px;width:151.23px;height:43.60px;color:#fff"><span>SCUBA</span></div>
<div class="fr" style="left:114.1px;top:856.10px;width:2401.90px;height:143.90px"></div>
<div class="b " style="left:39.40px;top:856.10px;width:80.00px;height:3.00px;background:#000;"></div>
<div class="b " style="left:78.50px;top:997.00px;width:40.00px;height:3.00px;background:#000;"></div>
<div class="fr" style="left:114.10px;top:1008.80px;width:2401.90px;height:49.60px"></div>
<div class="b " style="left:39.40px;top:1079.00px;width:39.30px;height:212.70px;background:#000;"></div>
<div class="b " style="left:78.50px;top:1232.90px;width:38.50px;height:58.80px;background:#000;"></div>
<div class="day" style="left:39.40px;top:1078.00px;height:212.70px"><span>FRIDAY</span></div>
<div class="sp" style="left:78.7px;top:1231.70px;width:36.5px;height:54.90px"><span>S</span><span>P</span></div>
<div class="ln" style="top:1082.00px;height:22.00px;line-height:24.40px">6</div>
<div class="ln" style="top:1104.00px;height:23.50px;line-height:25.90px">5</div>
<div class="ln" style="top:1127.50px;height:23.30px;line-height:25.70px">4</div>
<div class="ln" style="top:1150.80px;height:23.20px;line-height:25.60px">3</div>
<div class="ln" style="top:1174.00px;height:23.80px;line-height:26.20px">2</div>
<div class="ln" style="top:1197.80px;height:21.60px;line-height:24.00px">1</div>
<div class="b " style="left:78.50px;top:1102.80px;width:36.50px;height:2.40px;background:#000;"></div>
<div class="b " style="left:78.50px;top:1126.30px;width:36.50px;height:2.40px;background:#000;"></div>
<div class="b " style="left:78.50px;top:1149.60px;width:36.50px;height:2.40px;background:#000;"></div>
<div class="b " style="left:78.50px;top:1172.80px;width:36.50px;height:2.40px;background:#000;"></div>
<div class="b " style="left:78.50px;top:1196.60px;width:36.50px;height:2.40px;background:#000;"></div>
<div class="b " style="left:153.25px;top:1082.00px;width:761.50px;height:138.60px;background:#f8d706;"></div>
<div class="t " style="left:155.05px;top:1103.30px;width:609.20px;height:116.00px;color:#000"><span>LANE SWIMMING</span></div>
<div class="b " style="left:534.00px;top:1082.00px;width:228.45px;height:21.40px;background:#1870ba;"></div>
<div class="t " style="left:534.00px;top:1081.50px;width:228.45px;height:21.40px;color:#fff"><span>SWIMSTARS</span></div>
<div class="b " style="left:914.75px;top:1082.00px;width:152.30px;height:138.60px;background:#0ba650;"></div>
<div class="t " style="left:914.75px;top:1081.50px;width:152.30px;height:137.40px;color:#fff"><span>AQUAFIT</span></div>
<div class="b " style="left:762.45px;top:1149.90px;width:152.30px;height:70.70px;background:#0ba650;"></div>
<div class="t " style="left:762.45px;top:1149.40px;width:152.30px;height:69.50px;color:#fff"><span>60+ Swim</span></div>
<div class="b " style="left:1067.05px;top:1082.00px;width:152.30px;height:138.60px;background:#f8d706;"></div>
<div class="t " style="left:1067.05px;top:1081.50px;width:152.30px;height:137.40px;color:#000"><span>LANE<br>SWIMMING (55<br>mins)</span></div>
<div class="b " style="left:1219.35px;top:1082.00px;width:115.29px;height:138.60px;background:#91c7e6;"></div>
<div class="t " style="left:1219.35px;top:1081.50px;width:115.29px;height:137.40px;color:#000"><span>FAMILY<br>SWIM<br>(50mins)</span></div>
<div class="b " style="left:1371.65px;top:1082.00px;width:533.05px;height:138.60px;background:#f8d706;"></div>
<div class="t " style="left:1373.45px;top:1103.30px;width:456.90px;height:116.00px;color:#000"><span>LANE SWIMMING</span></div>
<div class="b " style="left:1523.95px;top:1082.00px;width:380.75px;height:21.40px;background:#1870ba;"></div>
<div class="t " style="left:1523.95px;top:1081.50px;width:380.75px;height:21.40px;color:#fff"><span>SWIMSTARS</span></div>
<div class="b " style="left:1904.70px;top:1082.00px;width:380.75px;height:91.30px;background:#ec2227;"></div>
<div class="t " style="left:1904.70px;top:1081.10px;width:380.75px;height:91.30px;color:#fff"><span>SWIMMING CLUB (SEVERNSIDE<br>TRITONS)</span></div>
<div class="b " style="left:1828.55px;top:1173.30px;width:152.30px;height:47.30px;background:#9dc3e6;"></div>
<div class="t sm" style="left:1828.55px;top:1174.30px;width:152.30px;height:46.10px;color:#000"><span>FAMILY SWIM<br>(50 mins)</span></div>
<div class="b " style="left:1980.85px;top:1173.30px;width:152.30px;height:47.30px;background:#f8d706;"></div>
<div class="t sm" style="left:1980.85px;top:1174.30px;width:152.30px;height:46.10px;color:#000"><span>LANE SWIM<br>(55 mins)</span></div>
<div class="b " style="left:2133.15px;top:1173.30px;width:152.30px;height:47.30px;background:#f8d706;"></div>
<div class="t sm" style="left:2133.15px;top:1174.30px;width:152.30px;height:46.10px;color:#000"><span>LANE SWIM<br>(55 mins)</span></div>
<div class="b " style="left:2132.05px;top:1173.30px;width:2.60px;height:46.10px;background:#000;"></div>
<div class="b " style="left:2284.35px;top:1173.30px;width:2.60px;height:46.10px;background:#000;"></div>
<div class="b " style="left:381.70px;top:1233.20px;width:307.65px;height:56.50px;background:#1870ba;"></div>
<div class="t " style="left:381.70px;top:1232.30px;width:307.65px;height:54.90px;color:#fff"><span>SWIMSTARS LESSONS</span></div>
<div class="b " style="left:838.60px;top:1233.20px;width:380.75px;height:56.50px;background:#1870ba;"></div>
<div class="t " style="left:838.60px;top:1232.30px;width:380.75px;height:54.90px;color:#fff"><span>SWIMSTARS LESSONS</span></div>
<div class="b " style="left:1219.35px;top:1233.20px;width:115.29px;height:56.50px;background:#91c7e6;"></div>
<div class="t " style="left:1219.35px;top:1232.30px;width:115.29px;height:54.90px;color:#000"><span>FAMILY<br>SWIM</span></div>
<div class="b " style="left:1523.95px;top:1233.20px;width:304.60px;height:56.50px;background:#1870ba;"></div>
<div class="t " style="left:1523.95px;top:1232.30px;width:304.60px;height:54.90px;color:#fff"><span>SWIMSTARS LESSONS</span></div>
<div class="b " style="left:1828.55px;top:1233.20px;width:152.30px;height:56.50px;background:#9dc3e6;"></div>
<div class="t sm" style="left:1828.55px;top:1241.80px;width:152.30px;height:54.90px;color:#000"><span>FAMILY SWIM<br>(50 mins)</span></div>
<div class="b " style="left:1826.95px;top:1233.80px;width:2.80px;height:54.90px;background:#000;"></div>
<div class="fr" style="left:114.1px;top:1079.00px;width:2401.90px;height:143.40px"></div>
<div class="b " style="left:39.40px;top:1079.00px;width:80.00px;height:3.00px;background:#000;"></div>
<div class="b " style="left:78.50px;top:1219.40px;width:40.00px;height:3.00px;background:#000;"></div>
<div class="fr" style="left:114.10px;top:1230.80px;width:2401.90px;height:60.90px"></div>
<div class="b " style="left:39.40px;top:1312.30px;width:39.30px;height:201.70px;background:#000;"></div>
<div class="b " style="left:78.50px;top:1466.50px;width:36.50px;height:47.50px;background:#000;"></div>
<div class="day" style="left:39.40px;top:1310.10px;height:201.70px"><span>SATURDAY</span></div>
<div class="sp" style="left:78.7px;top:1466.08px;width:36.5px;height:43.60px"><span>S</span><span>P</span></div>
<div class="ln" style="top:1315.30px;height:22.00px;line-height:24.40px">6</div>
<div class="ln" style="top:1337.30px;height:23.50px;line-height:25.90px">5</div>
<div class="ln" style="top:1360.80px;height:23.30px;line-height:25.70px">4</div>
<div class="ln" style="top:1384.10px;height:23.20px;line-height:25.60px">3</div>
<div class="ln" style="top:1407.30px;height:23.80px;line-height:26.20px">2</div>
<div class="ln" style="top:1431.10px;height:22.10px;line-height:24.50px">1</div>
<div class="b " style="left:78.50px;top:1336.10px;width:36.50px;height:2.40px;background:#000;"></div>
<div class="b " style="left:78.50px;top:1359.60px;width:36.50px;height:2.40px;background:#000;"></div>
<div class="b " style="left:78.50px;top:1382.90px;width:36.50px;height:2.40px;background:#000;"></div>
<div class="b " style="left:78.50px;top:1406.10px;width:36.50px;height:2.40px;background:#000;"></div>
<div class="b " style="left:78.50px;top:1429.90px;width:36.50px;height:2.40px;background:#000;"></div>
<div class="b " style="left:381.70px;top:1315.30px;width:304.60px;height:139.10px;background:#1870ba;"></div>
<div class="t " style="left:381.70px;top:1314.20px;width:304.60px;height:137.90px;color:#fff"><span>SWIMSTARS SWIMMING<br>LESSONS</span></div>
<div class="b " style="left:686.30px;top:1315.30px;width:228.45px;height:139.10px;background:#1cac4e;"></div>
<div class="t " style="left:686.30px;top:1314.20px;width:228.45px;height:137.90px;color:#fff"><span>ROOKIES</span></div>
<div class="b " style="left:914.75px;top:1315.30px;width:152.30px;height:139.10px;background:#f8d706;"></div>
<div class="t " style="left:914.75px;top:1337.20px;width:152.30px;height:116.50px;color:#000"><span>LANE<br>SWIMMING<br>(55 mins)</span></div>
<div class="b " style="left:914.75px;top:1315.30px;width:76.15px;height:21.00px;background:#1870ba;"></div>
<div class="b " style="left:1067.05px;top:1315.30px;width:115.29px;height:139.10px;background:#91c7e6;"></div>
<div class="t " style="left:1067.05px;top:1314.20px;width:115.29px;height:137.90px;color:#000"><span>FAMILY<br>SWIM<br>(50mins)</span></div>
<div class="b " style="left:1219.35px;top:1315.30px;width:115.29px;height:139.10px;background:#91c7e6;"></div>
<div class="t " style="left:1219.35px;top:1314.20px;width:115.29px;height:137.90px;color:#000"><span>FAMILY<br>SWIM<br>(50mins)</span></div>
<div class="b " style="left:1371.65px;top:1315.30px;width:152.30px;height:139.10px;background:#f37029;"></div>
<div class="t " style="left:1371.65px;top:1314.20px;width:152.30px;height:137.90px;color:#fff"><span>PARTY HIRE</span></div>
<div class="b " style="left:1523.95px;top:1315.30px;width:152.30px;height:139.10px;background:#f8d706;"></div>
<div class="t " style="left:1523.95px;top:1314.20px;width:152.30px;height:137.90px;color:#000"><span>LANE<br>SWIMMING<br>(55 mins)</span></div>
<div class="b " style="left:381.70px;top:1466.80px;width:610.72px;height:45.20px;background:#1870ba;"></div>
<div class="t " style="left:381.70px;top:1465.40px;width:610.72px;height:43.60px;color:#fff"><span>SWIMSTARS SWIMMING LESSONS</span></div>
<div class="b " style="left:1067.05px;top:1466.80px;width:115.29px;height:45.20px;background:#91c7e6;"></div>
<div class="t " style="left:1067.05px;top:1466.40px;width:115.29px;height:43.60px;color:#000"><span>FAMILY<br>SWIM</span></div>
<div class="b " style="left:1219.35px;top:1466.80px;width:115.29px;height:45.20px;background:#91c7e6;"></div>
<div class="t " style="left:1219.35px;top:1466.40px;width:115.29px;height:43.60px;color:#000"><span>FAMILY<br>SWIM</span></div>
<div class="b " style="left:1371.65px;top:1466.80px;width:152.30px;height:45.20px;background:#f37029;"></div>
<div class="t " style="left:1371.65px;top:1465.40px;width:152.30px;height:43.60px;color:#fff"><span>PARTY HIRE</span></div>
<div class="fr" style="left:114.1px;top:1312.30px;width:2401.90px;height:143.90px"></div>
<div class="b " style="left:39.40px;top:1312.30px;width:80.00px;height:3.00px;background:#000;"></div>
<div class="b " style="left:78.50px;top:1453.20px;width:40.00px;height:3.00px;background:#000;"></div>
<div class="fr" style="left:112.10px;top:1464.40px;width:2403.90px;height:49.60px"></div>
<div class="b " style="left:39.40px;top:1535.00px;width:39.30px;height:202.00px;background:#000;"></div>
<div class="b " style="left:78.50px;top:1689.70px;width:36.50px;height:47.30px;background:#000;"></div>
<div class="day" style="left:39.40px;top:1533.70px;height:202.00px"><span>SUNDAY</span></div>
<div class="sp" style="left:78.7px;top:1689.82px;width:36.5px;height:43.40px"><span>S</span><span>P</span></div>
<div class="ln" style="top:1538.00px;height:22.00px;line-height:24.40px">6</div>
<div class="ln" style="top:1560.00px;height:23.50px;line-height:25.90px">5</div>
<div class="ln" style="top:1583.50px;height:23.30px;line-height:25.70px">4</div>
<div class="ln" style="top:1606.80px;height:23.20px;line-height:25.60px">3</div>
<div class="ln" style="top:1630.00px;height:23.80px;line-height:26.20px">2</div>
<div class="ln" style="top:1653.80px;height:21.90px;line-height:24.30px">1</div>
<div class="b " style="left:78.50px;top:1558.80px;width:36.50px;height:2.40px;background:#000;"></div>
<div class="b " style="left:78.50px;top:1582.30px;width:36.50px;height:2.40px;background:#000;"></div>
<div class="b " style="left:78.50px;top:1605.60px;width:36.50px;height:2.40px;background:#000;"></div>
<div class="b " style="left:78.50px;top:1628.80px;width:36.50px;height:2.40px;background:#000;"></div>
<div class="b " style="left:78.50px;top:1652.60px;width:36.50px;height:2.40px;background:#000;"></div>
<div class="b " style="left:381.70px;top:1538.00px;width:380.75px;height:138.90px;background:#1870ba;"></div>
<div class="t " style="left:381.70px;top:1536.50px;width:380.75px;height:137.70px;color:#fff"><span>SWIMSTARS SWIMMING LESSONS</span></div>
<div class="b " style="left:762.45px;top:1538.00px;width:115.29px;height:138.90px;background:#91c7e6;"></div>
<div class="t " style="left:762.45px;top:1536.50px;width:115.29px;height:137.70px;color:#000"><span>FAMILY<br>SWIM<br>(50mins)</span></div>
<div class="b " style="left:914.75px;top:1538.00px;width:115.29px;height:138.90px;background:#91c7e6;"></div>
<div class="t " style="left:914.75px;top:1536.50px;width:115.29px;height:137.70px;color:#000"><span>FAMILY<br>SWIM<br>(50mins)</span></div>
<div class="b " style="left:1067.05px;top:1538.00px;width:152.30px;height:138.90px;background:#f37029;"></div>
<div class="t " style="left:1067.05px;top:1536.50px;width:152.30px;height:137.70px;color:#fff"><span>PARTY HIRE</span></div>
<div class="b " style="left:1219.35px;top:1538.00px;width:115.29px;height:138.90px;background:#91c7e6;"></div>
<div class="t " style="left:1219.35px;top:1536.50px;width:115.29px;height:137.70px;color:#000"><span>FAMILY<br>SWIM<br>(50mins)</span></div>
<div class="b " style="left:1371.65px;top:1538.00px;width:152.30px;height:138.90px;background:#f8d706;"></div>
<div class="t " style="left:1371.65px;top:1536.50px;width:152.30px;height:137.70px;color:#000"><span>LANE<br>SWIMMING<br>(55 mins)</span></div>
<div class="b " style="left:1600.10px;top:1538.00px;width:228.45px;height:138.90px;background:#ec2227;"></div>
<div class="t " style="left:1600.10px;top:1536.50px;width:228.45px;height:137.70px;color:#fff"><span>SWIMMING CLUB<br>(Severnside Tritons)</span></div>
<div class="b " style="left:381.70px;top:1690.00px;width:380.75px;height:45.00px;background:#1870ba;"></div>
<div class="t " style="left:381.70px;top:1688.20px;width:380.75px;height:43.40px;color:#fff"><span>SWIMSTARS SWIMMING LESSONS</span></div>
<div class="b " style="left:762.45px;top:1690.00px;width:115.29px;height:45.00px;background:#91c7e6;"></div>
<div class="t " style="left:762.45px;top:1688.20px;width:115.29px;height:43.40px;color:#000"><span>FAMILY<br>SWIM</span></div>
<div class="b " style="left:914.75px;top:1690.00px;width:115.29px;height:45.00px;background:#91c7e6;"></div>
<div class="t " style="left:914.75px;top:1688.20px;width:115.29px;height:43.40px;color:#000"><span>FAMILY<br>SWIM</span></div>
<div class="b " style="left:1067.05px;top:1690.00px;width:152.30px;height:45.00px;background:#f37029;"></div>
<div class="t " style="left:1067.05px;top:1688.20px;width:152.30px;height:43.40px;color:#fff"><span>PARTY HIRE</span></div>
<div class="b " style="left:1219.35px;top:1690.00px;width:115.29px;height:45.00px;background:#91c7e6;"></div>
<div class="t " style="left:1219.35px;top:1688.20px;width:115.29px;height:43.40px;color:#000"><span>FAMILY<br>SWIM</span></div>
<div class="fr" style="left:114.1px;top:1535.00px;width:2401.90px;height:143.70px"></div>
<div class="b " style="left:39.40px;top:1535.00px;width:80.00px;height:3.00px;background:#000;"></div>
<div class="b " style="left:78.50px;top:1675.70px;width:40.00px;height:3.00px;background:#000;"></div>
<div class="fr" style="left:112.10px;top:1687.60px;width:2403.90px;height:49.40px"></div>
<div class="b " style="left:75.75px;top:1735.90px;width:2.70px;height:23.30px;background:#000;"></div>
<div class="ax" style="left:48.60px;top:1757.60px">06.00</div>
<div class="b " style="left:113.83px;top:1735.90px;width:2.70px;height:11.30px;background:#000;"></div>
<div class="b " style="left:151.90px;top:1735.90px;width:2.70px;height:11.30px;background:#000;"></div>
<div class="b " style="left:189.97px;top:1735.90px;width:2.70px;height:11.30px;background:#000;"></div>
<div class="b " style="left:228.05px;top:1735.90px;width:2.70px;height:23.30px;background:#000;"></div>
<div class="ax" style="left:200.90px;top:1757.60px">07.00</div>
<div class="b " style="left:266.12px;top:1735.90px;width:2.70px;height:11.30px;background:#000;"></div>
<div class="b " style="left:304.20px;top:1735.90px;width:2.70px;height:11.30px;background:#000;"></div>
<div class="b " style="left:342.27px;top:1735.90px;width:2.70px;height:11.30px;background:#000;"></div>
<div class="b " style="left:380.35px;top:1735.90px;width:2.70px;height:23.30px;background:#000;"></div>
<div class="ax" style="left:353.20px;top:1757.60px">08.00</div>
<div class="b " style="left:418.42px;top:1735.90px;width:2.70px;height:11.30px;background:#000;"></div>
<div class="b " style="left:456.50px;top:1735.90px;width:2.70px;height:11.30px;background:#000;"></div>
<div class="b " style="left:494.58px;top:1735.90px;width:2.70px;height:11.30px;background:#000;"></div>
<div class="b " style="left:532.65px;top:1735.90px;width:2.70px;height:23.30px;background:#000;"></div>
<div class="ax" style="left:505.50px;top:1757.60px">09.00</div>
<div class="b " style="left:570.73px;top:1735.90px;width:2.70px;height:11.30px;background:#000;"></div>
<div class="b " style="left:608.80px;top:1735.90px;width:2.70px;height:11.30px;background:#000;"></div>
<div class="b " style="left:646.88px;top:1735.90px;width:2.70px;height:11.30px;background:#000;"></div>
<div class="b " style="left:684.95px;top:1735.90px;width:2.70px;height:23.30px;background:#000;"></div>
<div class="ax" style="left:657.80px;top:1757.60px">10.00</div>
<div class="b " style="left:723.03px;top:1735.90px;width:2.70px;height:11.30px;background:#000;"></div>
<div class="b " style="left:761.10px;top:1735.90px;width:2.70px;height:11.30px;background:#000;"></div>
<div class="b " style="left:799.18px;top:1735.90px;width:2.70px;height:11.30px;background:#000;"></div>
<div class="b " style="left:837.25px;top:1735.90px;width:2.70px;height:23.30px;background:#000;"></div>
<div class="ax" style="left:810.10px;top:1757.60px">11.00</div>
<div class="b " style="left:875.33px;top:1735.90px;width:2.70px;height:11.30px;background:#000;"></div>
<div class="b " style="left:913.40px;top:1735.90px;width:2.70px;height:11.30px;background:#000;"></div>
<div class="b " style="left:951.48px;top:1735.90px;width:2.70px;height:11.30px;background:#000;"></div>
<div class="b " style="left:989.55px;top:1735.90px;width:2.70px;height:23.30px;background:#000;"></div>
<div class="ax" style="left:962.40px;top:1757.60px">12.00</div>
<div class="b " style="left:1027.63px;top:1735.90px;width:2.70px;height:11.30px;background:#000;"></div>
<div class="b " style="left:1065.70px;top:1735.90px;width:2.70px;height:11.30px;background:#000;"></div>
<div class="b " style="left:1103.78px;top:1735.90px;width:2.70px;height:11.30px;background:#000;"></div>
<div class="b " style="left:1141.85px;top:1735.90px;width:2.70px;height:23.30px;background:#000;"></div>
<div class="ax" style="left:1114.70px;top:1757.60px">13.00</div>
<div class="b " style="left:1179.93px;top:1735.90px;width:2.70px;height:11.30px;background:#000;"></div>
<div class="b " style="left:1218.00px;top:1735.90px;width:2.70px;height:11.30px;background:#000;"></div>
<div class="b " style="left:1256.08px;top:1735.90px;width:2.70px;height:11.30px;background:#000;"></div>
<div class="b " style="left:1294.15px;top:1735.90px;width:2.70px;height:23.30px;background:#000;"></div>
<div class="ax" style="left:1267.00px;top:1757.60px">14.00</div>
<div class="b " style="left:1332.23px;top:1735.90px;width:2.70px;height:11.30px;background:#000;"></div>
<div class="b " style="left:1370.30px;top:1735.90px;width:2.70px;height:11.30px;background:#000;"></div>
<div class="b " style="left:1408.38px;top:1735.90px;width:2.70px;height:11.30px;background:#000;"></div>
<div class="b " style="left:1446.45px;top:1735.90px;width:2.70px;height:23.30px;background:#000;"></div>
<div class="ax" style="left:1419.30px;top:1757.60px">15.00</div>
<div class="b " style="left:1484.53px;top:1735.90px;width:2.70px;height:11.30px;background:#000;"></div>
<div class="b " style="left:1522.60px;top:1735.90px;width:2.70px;height:11.30px;background:#000;"></div>
<div class="b " style="left:1560.68px;top:1735.90px;width:2.70px;height:11.30px;background:#000;"></div>
<div class="b " style="left:1598.75px;top:1735.90px;width:2.70px;height:23.30px;background:#000;"></div>
<div class="ax" style="left:1571.60px;top:1757.60px">16.00</div>
<div class="b " style="left:1636.83px;top:1735.90px;width:2.70px;height:11.30px;background:#000;"></div>
<div class="b " style="left:1674.90px;top:1735.90px;width:2.70px;height:11.30px;background:#000;"></div>
<div class="b " style="left:1712.98px;top:1735.90px;width:2.70px;height:11.30px;background:#000;"></div>
<div class="b " style="left:1751.05px;top:1735.90px;width:2.70px;height:23.30px;background:#000;"></div>
<div class="ax" style="left:1723.90px;top:1757.60px">17.00</div>
<div class="b " style="left:1789.13px;top:1735.90px;width:2.70px;height:11.30px;background:#000;"></div>
<div class="b " style="left:1827.20px;top:1735.90px;width:2.70px;height:11.30px;background:#000;"></div>
<div class="b " style="left:1865.28px;top:1735.90px;width:2.70px;height:11.30px;background:#000;"></div>
<div class="b " style="left:1903.35px;top:1735.90px;width:2.70px;height:23.30px;background:#000;"></div>
<div class="ax" style="left:1876.20px;top:1757.60px">18.00</div>
<div class="b " style="left:1941.43px;top:1735.90px;width:2.70px;height:11.30px;background:#000;"></div>
<div class="b " style="left:1979.50px;top:1735.90px;width:2.70px;height:11.30px;background:#000;"></div>
<div class="b " style="left:2017.58px;top:1735.90px;width:2.70px;height:11.30px;background:#000;"></div>
<div class="b " style="left:2055.65px;top:1735.90px;width:2.70px;height:23.30px;background:#000;"></div>
<div class="ax" style="left:2028.50px;top:1757.60px">19.00</div>
<div class="b " style="left:2093.73px;top:1735.90px;width:2.70px;height:11.30px;background:#000;"></div>
<div class="b " style="left:2131.80px;top:1735.90px;width:2.70px;height:11.30px;background:#000;"></div>
<div class="b " style="left:2169.88px;top:1735.90px;width:2.70px;height:11.30px;background:#000;"></div>
<div class="b " style="left:2207.95px;top:1735.90px;width:2.70px;height:23.30px;background:#000;"></div>
<div class="ax" style="left:2180.80px;top:1757.60px">20.00</div>
<div class="b " style="left:2246.03px;top:1735.90px;width:2.70px;height:11.30px;background:#000;"></div>
<div class="b " style="left:2284.10px;top:1735.90px;width:2.70px;height:11.30px;background:#000;"></div>
<div class="b " style="left:2322.18px;top:1735.90px;width:2.70px;height:11.30px;background:#000;"></div>
<div class="b " style="left:2360.25px;top:1735.90px;width:2.70px;height:23.30px;background:#000;"></div>
<div class="ax" style="left:2333.10px;top:1757.60px">21.00</div>
<div class="b " style="left:2398.33px;top:1735.90px;width:2.70px;height:11.30px;background:#000;"></div>
<div class="b " style="left:2436.40px;top:1735.90px;width:2.70px;height:11.30px;background:#000;"></div>
<div class="b " style="left:2474.48px;top:1735.90px;width:2.70px;height:11.30px;background:#000;"></div>
<div class="b " style="left:2512.55px;top:1735.90px;width:2.70px;height:23.30px;background:#000;"></div>
<div class="ax" style="left:2485.40px;top:1757.60px">22.00</div>
<div class="fr" style="left:37.5px;top:1796.30px;width:2479.50px;height:135.80px;border-width:4.5px"></div>
<div class="b " style="left:42.00px;top:1800.70px;width:112.70px;height:71.80px;background:#1fb1e6;"></div>
<div class="key" style="left:42px;top:1797.70px;width:112.7px;height:71.8px">KEY</div>
<div class="fr" style="left:190.3px;top:1824.00px;width:231.4px;height:80.4px;border-width:2.5px"></div>
<div class="b " style="left:190.30px;top:1824.00px;width:40.20px;height:80.40px;background:#000;"></div>
<div class="spk" style="left:191.7px;top:1828.80px;width:40.5px">S</div>
<div class="spk" style="left:191.7px;top:1874.20px;width:40.5px">P</div>
<div class="eq" style="left:244.8px;top:1851.90px">=</div>
<div class="smp" style="left:273px;top:1834.70px">SMALL<br>POOL</div>
<div class="b " style="left:457.00px;top:1824.90px;width:2019.50px;height:32.30px;background:#f8d706;"></div>
<div class="lanes" style="left:457px;top:1824.90px;width:2019.50px;height:32.3px"><span><b>LANES:</b> Sessions run for 55 minutes (as stated above) or longer.&nbsp; Longer lane sessions also offer flexible arrival times, with last check-in 50-minutes before the session ends.</span></div>
<div class="b " style="left:457.00px;top:1872.00px;width:155.00px;height:31.20px;background:#1cac4e;"></div>
<div class="ki" style="left:457.00px;top:1870.80px;width:155.00px;height:31.2px;color:#fff">SESSIONS</div>
<div class="b " style="left:686.00px;top:1872.00px;width:192.00px;height:31.20px;background:#91c7e6;"></div>
<div class="ki" style="left:686.00px;top:1870.80px;width:192.00px;height:31.2px;color:#000">CASUAL SWIM</div>
<div class="b " style="left:953.00px;top:1872.00px;width:381.50px;height:31.20px;background:#f6c7ac;"></div>
<div class="ki" style="left:953.00px;top:1870.80px;width:381.50px;height:31.2px;color:#000">MEDICAL OR DISABILITY SWIM</div>
<div class="b " style="left:1409.00px;top:1872.00px;width:154.00px;height:31.20px;background:#1f2a5c;"></div>
<div class="ki" style="left:1409.00px;top:1870.80px;width:154.00px;height:31.2px;color:#fff">SCHOOLS</div>
<div class="b " style="left:1638.00px;top:1872.00px;width:153.50px;height:31.20px;background:#ec2227;"></div>
<div class="ki" style="left:1638.00px;top:1870.80px;width:153.50px;height:31.2px;color:#fff">CLUBS</div>
<div class="b " style="left:1866.50px;top:1872.00px;width:419.50px;height:31.20px;background:#1870ba;"></div>
<div class="ki" style="left:1866.50px;top:1870.80px;width:419.50px;height:31.2px;color:#fff">SWIMSTARS SWIMMING LESSONS</div>
<div class="b " style="left:2361.00px;top:1872.00px;width:115.50px;height:31.20px;background:#f37029;"></div>
<div class="ki" style="left:2361.00px;top:1870.80px;width:115.50px;height:31.2px;color:#fff">PARTIES</div>
</body></html>
